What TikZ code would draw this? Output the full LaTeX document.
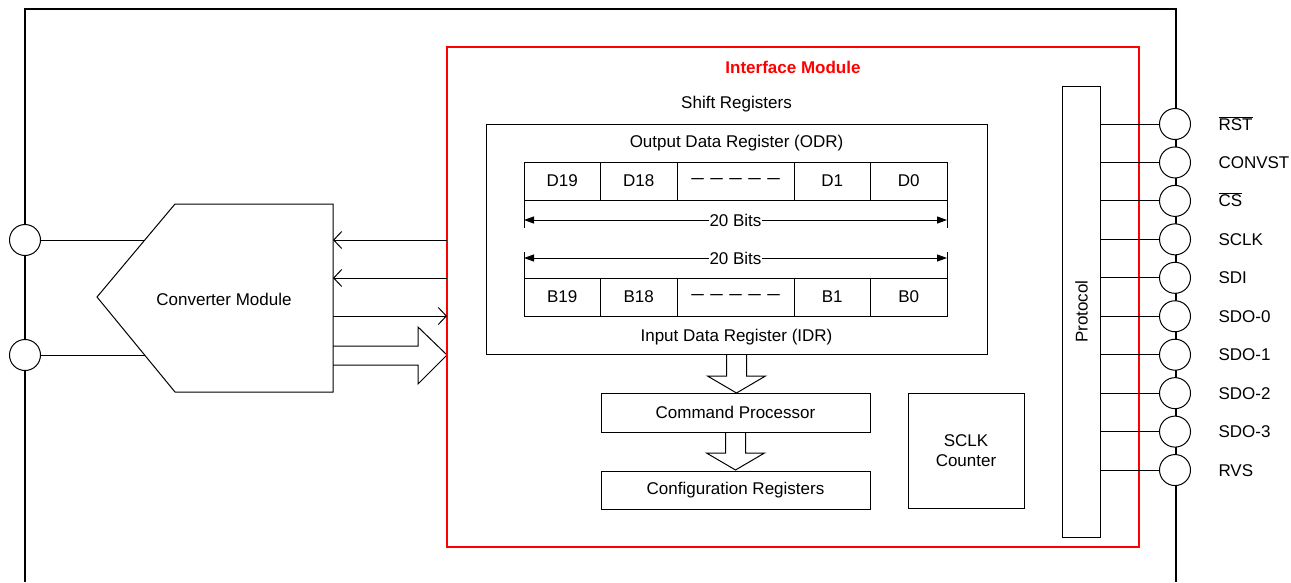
\documentclass[tikz,border=0pt]{standalone}
\usepackage{fontspec}
\setmainfont{Liberation Sans}
\usetikzlibrary{arrows.meta,positioning}
\tikzset{
	x=1pt, y=-1pt,
	every path/.style = {line width=1pt},
	every node/.style = {font=\fontsize{17}{20}\selectfont, inner sep=0pt, outer sep=0pt},
	frame/.style = {line width=2pt},
	blk/.style = {draw, fill=white},
	cell/.style = {draw, minimum width=76.5, minimum height=38},
	wide/.style = {minimum width=117},
	pin/.style = {draw, circle, fill=white, minimum size=31},
	lbl/.style = {text height=12pt, text depth=0pt},
	barb/.style = {-{Straight Barb[length=8pt,width=17pt]}},
	dim/.style = {{Triangle[length=10pt,width=7pt]}-{Triangle[length=10pt,width=7pt]}}
}
\newcommand{\dashline}{{\fontsize{12.5}{15}\selectfont\bfseries ---\hspace{6.5pt}---\hspace{6.5pt}---\hspace{6.5pt}---\hspace{6.5pt}---}}

\begin{document}
\begin{tikzpicture}
	\useasboundingbox (0,0) rectangle (1291,582);
	\draw[frame] (25,582) -- (25,9) -- (1176,9) -- (1176,582);

	% converter side
	\coordinate (cinA) at (144.8,240);
	\coordinate (cinB) at (144.6,355);
	\coordinate (cvA) at (333,240);
	\coordinate (cvB) at (333,278);
	\coordinate (cvC) at (333,316);
	\coordinate (cvD) at (333,355);
	\draw (cvD) ++(0,-9) -- ++(85,0) -- ++(0,-19) -- ++(29,28) -- ++(-29,29) -- ++(0,-19) -- ++(-85,0);
	\draw[fill=white] (175,204) -- (333,204) -- (333,392) -- (175,392) -- (97,297) -- cycle;
	\node (conv) at (224,299) {Converter Module};
	\node[pin] (pinA) at (25,240) {};
	\node[pin] (pinB) at (25,355) {};
	\draw (pinA.east) -- (cinA);
	\draw (pinB.east) -- (cinB);

	% interface module
	\node[draw=red, line width=1.5pt, minimum width=692, minimum height=500] (ifm) at (793,297) {};
	\node[red, font=\fontsize{17}{20}\selectfont\bfseries] at ([yshift=-20pt]ifm.north) {Interface Module};
	\draw[barb] (ifm.west |- cvA) -- (cvA);
	\draw[barb] (ifm.west |- cvB) -- (cvB);
	\draw[barb] (cvC) -- (ifm.west |- cvC);

	% shift registers
	\node[blk, minimum width=501, minimum height=230] (sreg) at (736.5,239) {};
	\node at ([yshift=20pt]sreg.north) {Shift Registers};
	\node at ([yshift=-19pt]sreg.north) {Output Data Register (ODR)};
	\node at ([yshift=17pt]sreg.south) {Input Data Register (IDR)};

	\node[cell] (d19) at (562.25,181) {D19};
	\node[cell, right=0pt of d19] (d18) {D18};
	\node[cell, wide, right=0pt of d18] (ddots) {\dashline};
	\node[cell, right=0pt of ddots] (d1) {D1};
	\node[cell, right=0pt of d1] (d0) {D0};

	\node[cell] (b19) at (562.25,297) {B19};
	\node[cell, right=0pt of b19] (b18) {B18};
	\node[cell, wide, right=0pt of b18] (bdots) {\dashline};
	\node[cell, right=0pt of bdots] (b1) {B1};
	\node[cell, right=0pt of b1] (b0) {B0};

	\draw (d19.south west) -- ++(0,28);
	\draw (d0.south east) -- ++(0,28);
	\draw[dim] ([yshift=-20pt]d19.south west) -- node[fill=white, inner xsep=1pt] {20 Bits} ([yshift=-20pt]d0.south east);
	\draw (b19.north west) -- ++(0,-26);
	\draw (b0.north east) -- ++(0,-26);
	\draw[dim] ([yshift=20pt]b19.north west) -- node[fill=white, inner xsep=1pt] {20 Bits} ([yshift=20pt]b0.north east);

	% command path
	\node[blk, minimum width=269, minimum height=39] (cmd) at (735.5,412.5) {Command Processor};
	\node[blk, minimum width=269, minimum height=38, below=39pt of cmd] (cfg) {Configuration Registers};
	\node[blk, minimum width=116, minimum height=115, align=center] (cnt) at (966,450.5) {SCLK\\Counter};
	\draw (sreg.south) ++(-10,0) -- ++(0,22) -- ++(-19,0) -- ++(29,17) -- ++(29,-17) -- ++(-19,0) -- ++(0,-22);
	\draw (cmd.south) ++(-10,0) -- ++(0,21) -- ++(-19,0) -- ++(29,17) -- ++(29,-17) -- ++(-19,0) -- ++(0,-21);

	% protocol and pins
	\node[blk, minimum width=38, minimum height=451] (proto) at (1081.5,311.5) {};
	\node[rotate=90] at (proto) {Protocol};
	\foreach \name/\txt [count=\i] in {rst/{$\overline{\mbox{RST}}$}, convst/CONVST, cs/{$\overline{\mbox{CS}}$}, sclk/SCLK, sdi/SDI, sdoa/SDO-0, sdob/SDO-1, sdoc/SDO-2, sdod/SDO-3, rvs/RVS} {
		\node[pin] (\name) at (1175,{124+38.45*(\i-1)}) {};
		\draw (\name.west) -- (\name.west -| proto.east);
		\node[lbl, right=28pt of \name] {\txt};
	}
\end{tikzpicture}
\end{document}
